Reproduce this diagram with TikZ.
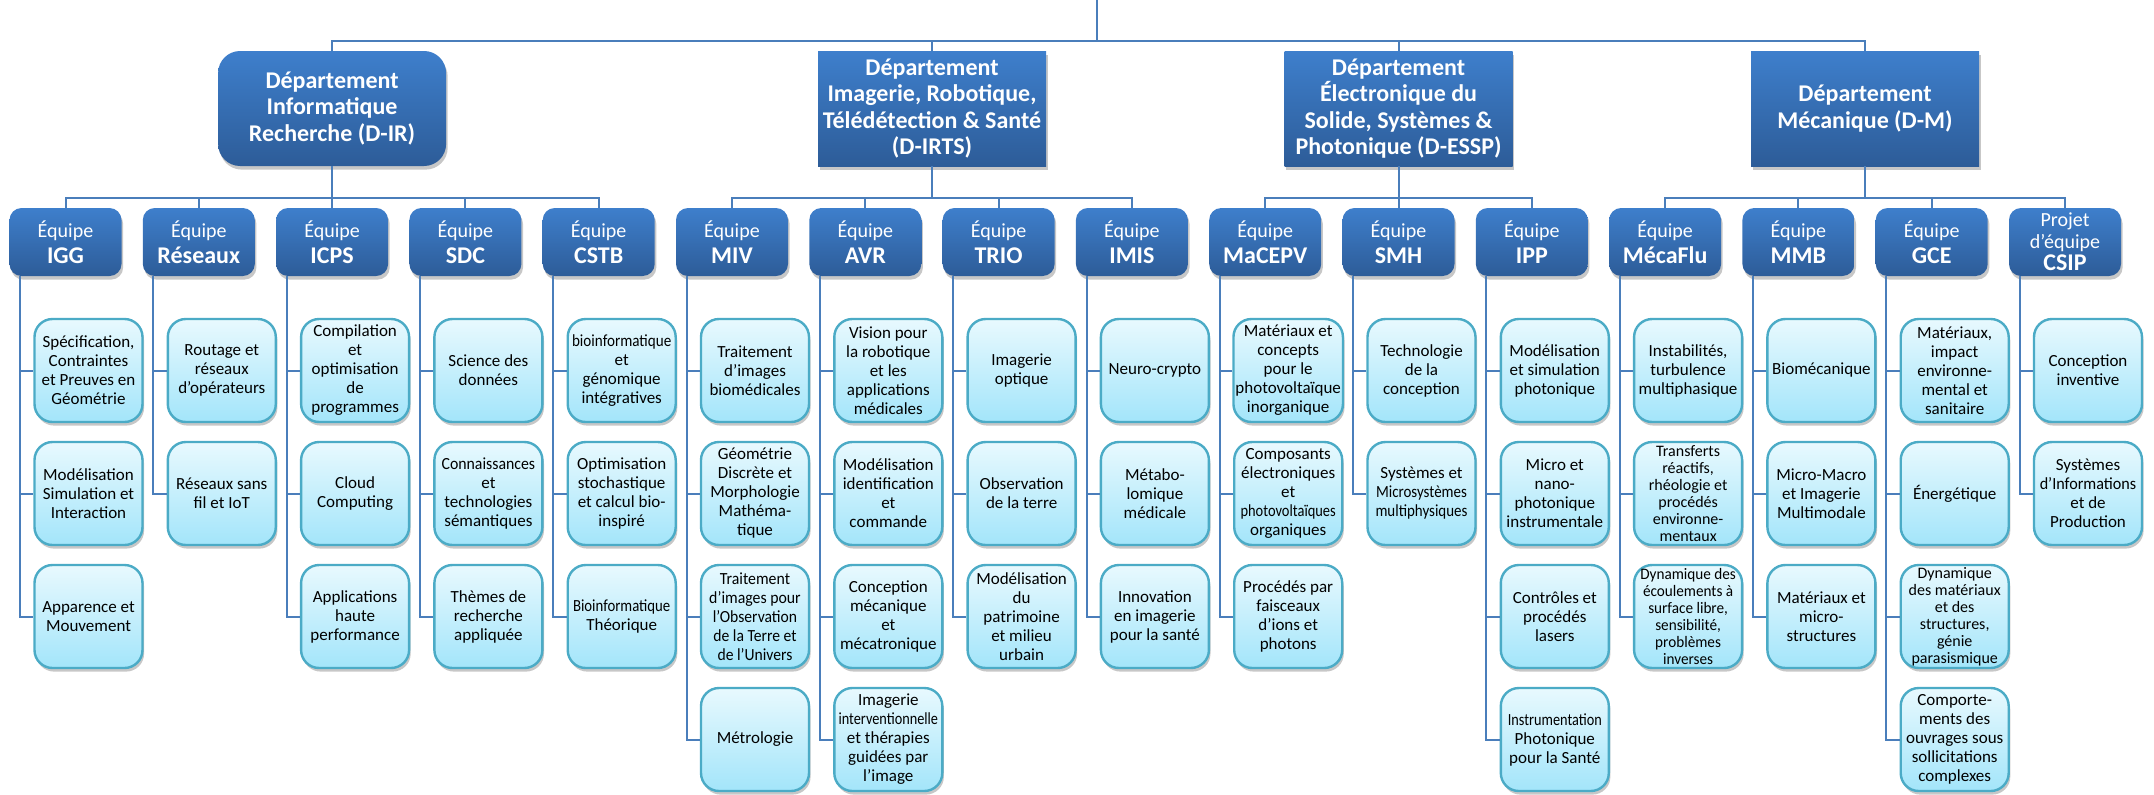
\documentclass[tikz,border=0pt]{standalone}
\usepackage{fontspec}
\setmainfont{Carlito}
\usepackage{graphicx}
\usetikzlibrary{shadows}
\definecolor{conncol}{HTML}{4A7EBB}
\definecolor{teamtop}{HTML}{3E7FCC}
\definecolor{teambot}{HTML}{2D5C98}
\definecolor{leaftop}{HTML}{E8F9FE}
\definecolor{leafbot}{HTML}{A3E5FA}
\definecolor{leafborder}{HTML}{4BABC6}
\newcommand{\sqz}[2][0.9]{\scalebox{#1}[1]{#2}}
\tikzset{
  conn/.style={draw=conncol, line width=1pt},
  myshadow/.style={drop shadow={shadow xshift=0.8pt, shadow yshift=-1.8pt, opacity=0.22, fill=black}},
  deptbox/.style={top color=teamtop, bottom color=teambot, draw=none, minimum width=114pt, minimum height=57.5pt, inner sep=1pt, text=white, align=center, font=\bfseries\fontsize{12}{13.3}\selectfont, myshadow},
  teambox/.style={rounded corners=6pt, top color=teamtop, bottom color=teambot, draw=none, minimum width=56pt, minimum height=34pt, inner sep=0pt, text=white, align=center, font=\fontsize{10}{13}\selectfont, myshadow},
  leaf/.style={rounded corners=9pt, top color=leaftop, bottom color=leafbot, draw=leafborder, line width=1.2pt, minimum width=54pt, minimum height=51.5pt, inner sep=1pt, text=black, align=center, font=\fontsize{8.5}{9.5}\selectfont, myshadow},
  leafsmall/.style={font=\fontsize{8}{8.5}\selectfont},
}
\newcommand{\nm}[1]{{\bfseries\fontsize{12}{13.5}\selectfont #1}}
\newcommand{\team}[2]{\node[teambox] (t#1) at ({65.5+133.3*#1},242) {#2};}
\newcommand{\lf}[4][]{\node[leaf,#1] (l#2-#3) at ({88.5+133.3*#2},{370.5+123*#3}) {#4};
  \draw[conn] ([xshift=5.5pt]t#2.south west) |- (l#2-#3.west);}
\begin{document}
\begin{tikzpicture}[x=0.5pt,y=-0.5pt]
\useasboundingbox (0,0) rectangle (2154,794);
% departments
\node[deptbox, rounded corners=11pt] (dIR) at (332.1,108.5) {Département\\Informatique\\Recherche (D-IR)};
\node[deptbox] (dIRTS) at (932,108.5) {Département\\Imagerie, Robotique,\\Télédétection \& Santé\\(D-IRTS)};
\node[deptbox] (dESSP) at (1398.5,108.5) {Département\\Électronique du\\Solide, Systèmes \&\\Photonique (D-ESSP)};
\node[deptbox] (dM) at (1865,108.5) {Département\\Mécanique (D-M)};
\coordinate (root) at (1097,0);
\coordinate (bus) at (1097,41);
\draw[conn] (root) -- (bus);
\draw[conn] (dIR.north) -- ++(0,-10) -| (dM.north);
\draw[conn] (dIRTS.north) -- ++(0,-10);
\draw[conn] (dESSP.north) -- ++(0,-10);
% teams
\team{0}{Équipe\\\nm{IGG}}
\team{1}{Équipe\\\nm{Réseaux}}
\team{2}{Équipe\\\nm{ICPS}}
\team{3}{Équipe\\\nm{SDC}}
\team{4}{Équipe\\\nm{CSTB}}
\team{5}{Équipe\\\nm{MIV}}
\team{6}{Équipe\\\nm{AVR}}
\team{7}{Équipe\\\nm{TRIO}}
\team{8}{Équipe\\\nm{IMIS}}
\team{9}{Équipe\\\nm{MaCEPV}}
\team{10}{Équipe\\\nm{SMH}}
\team{11}{Équipe\\\nm{IPP}}
\team{12}{Équipe\\\nm{MécaFlu}}
\team{13}{Équipe\\\nm{MMB}}
\team{14}{Équipe\\\nm{GCE}}
\node[teambox, font=\fontsize{10}{11}\selectfont] (t15) at ({65.5+133.3*15},242) {Projet\\d'équipe\\\nm{CSIP}};
\foreach \i in {0,...,4} {\draw[conn] (dIR.south) -- ++(0,32) -| (t\i.north);}
\foreach \i in {5,...,8} {\draw[conn] (dIRTS.south) -- ++(0,32) -| (t\i.north);}
\foreach \i in {9,...,11} {\draw[conn] (dESSP.south) -- ++(0,32) -| (t\i.north);}
\foreach \i in {12,...,15} {\draw[conn] (dM.south) -- ++(0,32) -| (t\i.north);}
% leaves
\lf{0}{0}{Spécification,\\Contraintes\\et Preuves en\\Géométrie}
\lf{0}{1}{Modélisation\\Simulation et\\Interaction}
\lf{0}{2}{Apparence et\\Mouvement}
\lf{1}{0}{Routage et\\réseaux\\d'opérateurs}
\lf{1}{1}{Réseaux sans\\fil et IoT}
\lf{2}{0}{Compilation\\et\\optimisation\\de\\programmes}
\lf{2}{1}{Cloud\\Computing}
\lf{2}{2}{Applications\\haute\\performance}
\lf{3}{0}{Science des\\données}
\lf{3}{1}{\sqz[0.93]{Connaissances}\\et\\technologies\\sémantiques}
\lf{3}{2}{Thèmes de\\recherche\\appliquée}
\lf{4}{0}{\sqz[0.89]{bioinformatique}\\et\\génomique\\intégratives}
\lf{4}{1}{Optimisation\\stochastique\\et calcul bio-\\inspiré}
\lf{4}{2}{\sqz[0.87]{Bioinformatique}\\Théorique}
\lf{5}{0}{Traitement\\d’images\\biomédicales}
\lf{5}{1}{Géométrie\\Discrète et\\Morphologie\\Mathéma-\\tique}
\lf{5}{2}{\sqz[0.93]{Traitement}\\\sqz[0.93]{d'images pour}\\\sqz[0.92]{l'Observation}\\\sqz[0.92]{de la Terre et}\\\sqz[0.92]{de l'Univers}}
\lf{5}{3}{Métrologie}
\lf{6}{0}{Vision pour\\la robotique\\et les\\applications\\médicales}
\lf{6}{1}{Modélisation\\identification\\et\\commande}
\lf{6}{2}{Conception\\mécanique\\et\\mécatronique}
\lf{6}{3}{Imagerie\\\sqz[0.84]{interventionnelle}\\et thérapies\\guidées par\\l’image}
\lf{7}{0}{Imagerie\\optique}
\lf{7}{1}{Observation\\de la terre}
\lf{7}{2}{Modélisation\\du\\patrimoine\\et milieu\\urbain}
\lf{8}{0}{Neuro-crypto}
\lf{8}{1}{Métabo-\\lomique\\médicale}
\lf{8}{2}{Innovation\\en imagerie\\pour la santé}
\lf{9}{0}{Matériaux et\\concepts\\pour le\\photovoltaïque\\inorganique}
\lf{9}{1}{Composants\\électroniques\\et\\\sqz[0.85]{photovoltaïques}\\organiques}
\lf{9}{2}{Procédés par\\faisceaux\\d’ions et\\photons}
\lf{10}{0}{Technologie\\de la\\conception}
\lf{10}{1}{Systèmes et\\\sqz[0.88]{Microsystèmes}\\\sqz[0.88]{multiphysiques}}
\lf{11}{0}{Modélisation\\et simulation\\photonique}
\lf{11}{1}{Micro et\\nano-\\photonique\\instrumentale}
\lf{11}{2}{Contrôles et\\procédés\\lasers}
\lf{11}{3}{\sqz[0.84]{Instrumentation}\\Photonique\\pour la Santé}
\lf{12}{0}{Instabilités,\\turbulence\\multiphasique}
\lf[leafsmall]{12}{1}{Transferts\\réactifs,\\rhéologie et\\procédés\\environne-\\mentaux}
\lf[leafsmall]{12}{2}{\sqz[0.95]{Dynamique des}\\\sqz[0.95]{écoulements à}\\\sqz[0.95]{surface libre,}\\\sqz[0.95]{sensibilité,}\\\sqz[0.95]{problèmes}\\\sqz[0.95]{inverses}}
\lf{13}{0}{Biomécanique}
\lf{13}{1}{Micro-Macro\\et Imagerie\\Multimodale}
\lf{13}{2}{Matériaux et\\micro-\\structures}
\lf{14}{0}{Matériaux,\\impact\\environne-\\mental et\\sanitaire}
\lf{14}{1}{Énergétique}
\lf[leafsmall]{14}{2}{Dynamique\\des matériaux\\et des\\structures,\\génie\\parasismique}
\lf{14}{3}{Comporte-\\ments des\\ouvrages sous\\sollicitations\\complexes}
\lf{15}{0}{Conception\\inventive}
\lf{15}{1}{Systèmes\\\sqz[0.95]{d'Informations}\\et de\\Production}
\end{tikzpicture}
\end{document}
